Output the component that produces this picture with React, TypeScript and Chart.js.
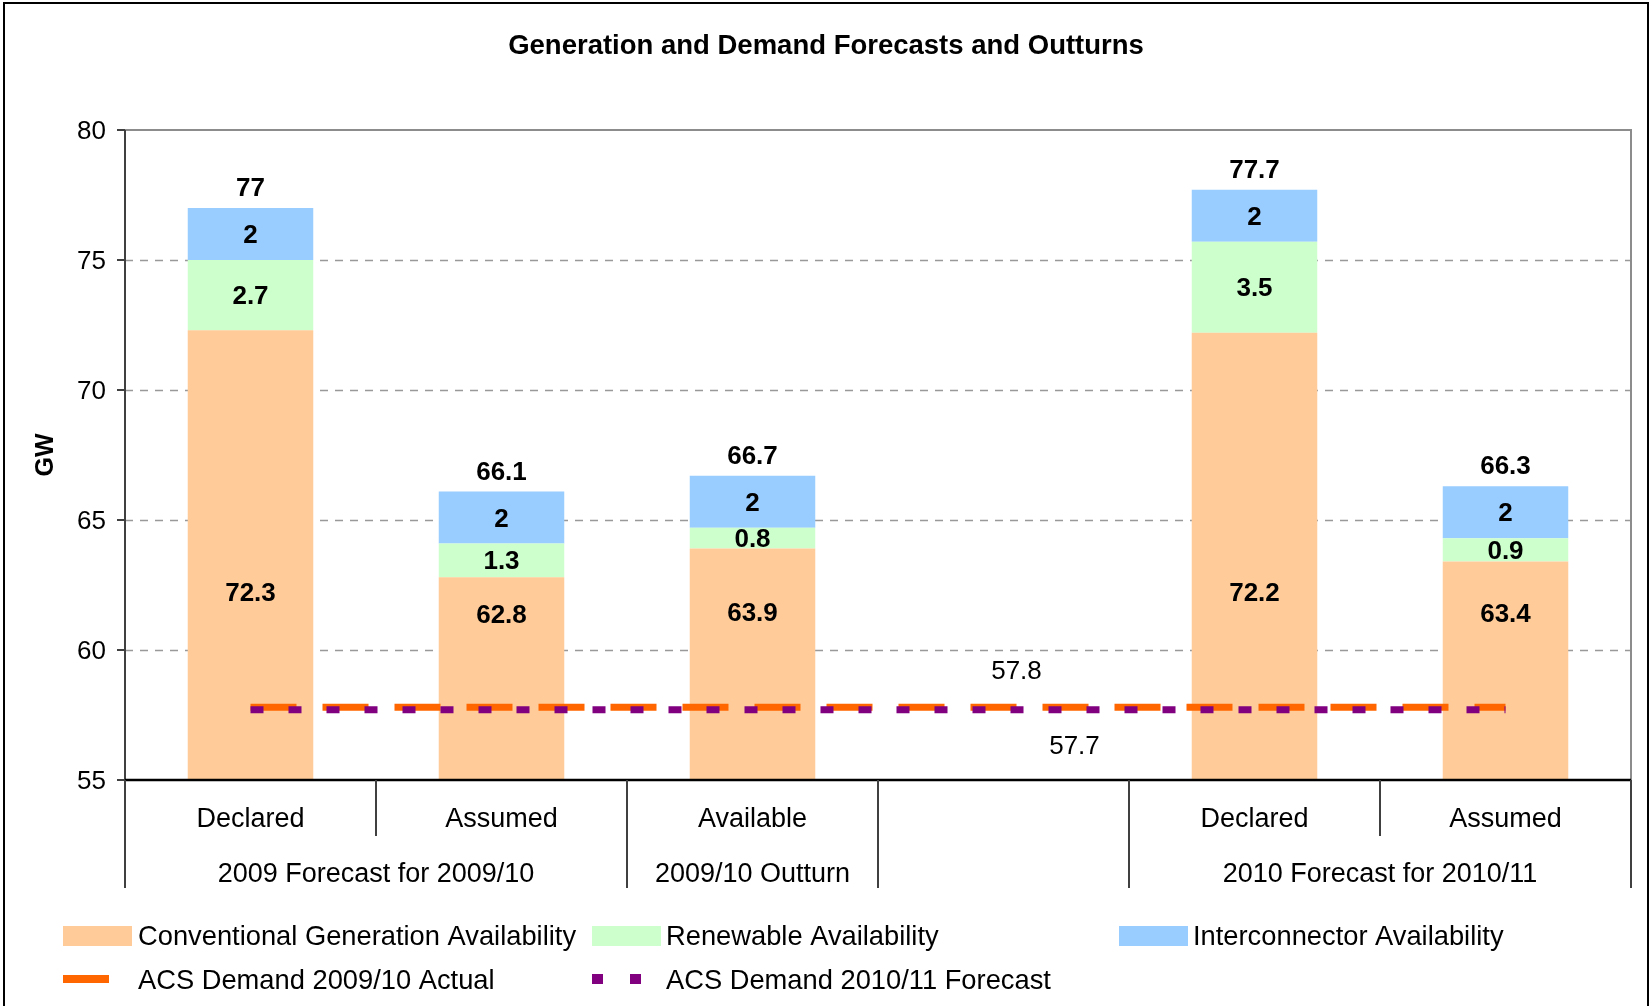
import { useEffect, useRef } from 'react';
import { Chart, registerables } from 'chart.js';

Chart.register(...registerables);

const chartTitle = 'Generation and Demand Forecasts and Outturns';
const yTitle = 'GW';
const categories = ['Declared', 'Assumed', 'Available', '', 'Declared', 'Assumed'];
const groupLabels = ['2009 Forecast for 2009/10', '2009/10 Outturn', '', '2010 Forecast for 2010/11'];
const groupSpans = [2, 1, 1, 2];
const conventional = [72.3, 62.8, 63.9, null, 72.2, 63.4];
const renewable = [2.7, 1.3, 0.8, null, 3.5, 0.9];
const interconnector = [2, 2, 2, null, 2, 2];
const demandActual = [57.8, 57.8, 57.8, 57.8, 57.8, 57.8];
const demandForecast = [57.7, 57.7, 57.7, 57.7, 57.7, 57.7];
const yTicks = [55, 60, 65, 70, 75, 80];
const seriesNames = [
  'Conventional Generation Availability',
  'Renewable Availability',
  'Interconnector Availability',
  'ACS Demand 2009/10 Actual',
  'ACS Demand 2010/11 Forecast',
];
const colors = ['#FFCC99', '#CCFFCC', '#99CCFF', '#FF6600', '#800080'];

const W = 1652;
const H = 1006;
const FONT = '"Liberation Sans", Arial, sans-serif';

const fmt = (v: number) => String(Number(v.toFixed(1)));

const excelPlugin = {
  id: 'excelLook',
  beforeDatasetsDraw(chart: any) {
    const { ctx, chartArea: a, scales } = chart;
    const y = scales.y;
    ctx.save();
    ctx.strokeStyle = '#999999';
    ctx.lineWidth = 1.5;
    ctx.setLineDash([8, 7]);
    for (const t of yTicks) {
      if (t === yTicks[0] || t === yTicks[yTicks.length - 1]) continue;
      const py = Math.round(y.getPixelForValue(t)) + 0.5;
      ctx.beginPath();
      ctx.moveTo(a.left, py);
      ctx.lineTo(a.right, py);
      ctx.stroke();
    }
    ctx.setLineDash([]);
    ctx.strokeStyle = '#8c8c8c';
    ctx.lineWidth = 2;
    ctx.beginPath();
    ctx.moveTo(a.left, a.top);
    ctx.lineTo(a.right, a.top);
    ctx.lineTo(a.right, a.bottom);
    ctx.stroke();
    ctx.restore();
  },
  afterDatasetsDraw(chart: any) {
    const { ctx, chartArea: a, scales } = chart;
    const x = scales.x;
    const y = scales.y;
    const n = categories.length;
    const catW = (a.right - a.left) / n;
    ctx.save();

    // y axis line and ticks
    ctx.strokeStyle = '#404040';
    ctx.lineWidth = 2;
    ctx.beginPath();
    ctx.moveTo(a.left, a.top);
    ctx.lineTo(a.left, a.bottom);
    ctx.stroke();
    ctx.fillStyle = '#000';
    ctx.font = `26px ${FONT}`;
    ctx.textAlign = 'right';
    ctx.textBaseline = 'middle';
    for (const t of yTicks) {
      const py = y.getPixelForValue(t);
      ctx.beginPath();
      ctx.moveTo(a.left - 8, py);
      ctx.lineTo(a.left, py);
      ctx.stroke();
      ctx.fillText(String(t), a.left - 19, py + 2);
    }

    // bottom axis
    ctx.strokeStyle = '#000';
    ctx.lineWidth = 2.5;
    ctx.beginPath();
    ctx.moveTo(a.left, a.bottom);
    ctx.lineTo(a.right, a.bottom);
    ctx.stroke();

    // category separators
    const groupEdges = new Set<number>([0]);
    let acc = 0;
    for (const s of groupSpans) {
      acc += s;
      groupEdges.add(acc);
    }
    ctx.strokeStyle = '#404040';
    ctx.lineWidth = 2;
    for (let b = 0; b <= n; b++) {
      const px = Math.round(a.left + b * catW);
      const len = groupEdges.has(b) ? 108 : 56;
      ctx.beginPath();
      ctx.moveTo(px, a.bottom);
      ctx.lineTo(px, a.bottom + len);
      ctx.stroke();
    }

    // category labels
    ctx.fillStyle = '#000';
    ctx.font = `27px ${FONT}`;
    ctx.textAlign = 'center';
    ctx.textBaseline = 'middle';
    categories.forEach((c, i) => {
      if (c) ctx.fillText(c, x.getPixelForValue(i), a.bottom + 40);
    });
    let start = 0;
    groupLabels.forEach((g, i) => {
      const end = start + groupSpans[i];
      const cx = a.left + ((start + end) / 2) * catW;
      if (g) ctx.fillText(g, cx, a.bottom + 95);
      start = end;
    });

    // data labels for bars
    ctx.font = `bold 26px ${FONT}`;
    for (let i = 0; i < n; i++) {
      const c = conventional[i];
      const r = renewable[i];
      const ic = interconnector[i];
      if (c == null || r == null || ic == null) continue;
      const cx = x.getPixelForValue(i);
      const convLabelVal = 60.6 + 0.09 * (c - yTicks[0]);
      ctx.fillText(fmt(c), cx, y.getPixelForValue(convLabelVal));
      ctx.fillText(fmt(r), cx, y.getPixelForValue(c + r / 2) + 2);
      ctx.fillText(fmt(ic), cx, y.getPixelForValue(c + r + ic / 2) + 2);
      const total = c + r + ic;
      ctx.fillText(fmt(total), cx, y.getPixelForValue(total) - 19);
    }

    // line labels
    ctx.font = `26px ${FONT}`;
    const li = 3;
    ctx.fillText(fmt(demandActual[li]), x.getPixelForValue(li) + 13, y.getPixelForValue(demandActual[li]) - 35);
    ctx.fillText(fmt(demandForecast[li]), x.getPixelForValue(li) + 71, y.getPixelForValue(demandForecast[li]) + 37);

    // title
    ctx.font = `bold 27.5px ${FONT}`;
    ctx.fillText(chartTitle, W / 2, 46);

    // y title
    ctx.save();
    ctx.translate(46, (a.top + a.bottom) / 2);
    ctx.rotate(-Math.PI / 2);
    ctx.font = `bold 25px ${FONT}`;
    ctx.fillText(yTitle, 0, 0);
    ctx.restore();

    // legend
    ctx.font = `27.3px ${FONT}`;
    ctx.textAlign = 'left';
    const row1 = 936;
    const row2 = 980;
    const boxes = [
      { bx: 63, tx: 138 },
      { bx: 592, tx: 666 },
      { bx: 1119, tx: 1193 },
    ];
    for (let k = 0; k < 3; k++) {
      ctx.fillStyle = colors[k];
      ctx.fillRect(boxes[k].bx, row1 - 10, 69, 20);
      ctx.fillStyle = '#000';
      ctx.fillText(seriesNames[k], boxes[k].tx, row1 + 1);
    }
    ctx.fillStyle = colors[3];
    ctx.fillRect(63, row2 - 5, 46, 8);
    ctx.fillStyle = '#000';
    ctx.fillText(seriesNames[3], 138, row2 + 1);
    ctx.fillStyle = colors[4];
    ctx.fillRect(592, row2 - 6, 11, 10);
    ctx.fillRect(630, row2 - 6, 11, 10);
    ctx.fillStyle = '#000';
    ctx.fillText(seriesNames[4], 666, row2 + 1);

    // outer border
    ctx.strokeStyle = '#000';
    ctx.lineWidth = 2;
    ctx.strokeRect(4, 3, 1644, 1010);

    ctx.restore();
  },
};

export default function App() {
  const ref = useRef<HTMLCanvasElement | null>(null);
  useEffect(() => {
    if (!ref.current) return;
    const chart = new Chart(ref.current, {
      type: 'bar',
      data: {
        labels: categories,
        datasets: [
          {
            type: 'line',
            label: seriesNames[4],
            data: demandForecast,
            borderColor: colors[4],
            borderWidth: 7,
            borderDash: [13, 25],
            borderCapStyle: 'butt',
            pointRadius: 0,
            fill: false,
            stack: 'l2',
            order: 0,
            clip: 0,
          } as any,
          {
            type: 'line',
            label: seriesNames[3],
            data: demandActual,
            borderColor: colors[3],
            borderWidth: 7,
            borderDash: [46, 26],
            borderCapStyle: 'butt',
            pointRadius: 0,
            fill: false,
            stack: 'l1',
            order: 1,
            clip: 0,
          } as any,
          {
            label: seriesNames[0],
            data: conventional,
            backgroundColor: colors[0],
            borderWidth: 0,
            stack: 'bars',
            order: 2,
            clip: 0,
          } as any,
          {
            label: seriesNames[1],
            data: renewable,
            backgroundColor: colors[1],
            borderWidth: 0,
            stack: 'bars',
            order: 2,
            clip: 0,
          } as any,
          {
            label: seriesNames[2],
            data: interconnector,
            backgroundColor: colors[2],
            borderWidth: 0,
            stack: 'bars',
            order: 2,
            clip: 0,
          } as any,
        ],
      },
      options: {
        animation: false,
        responsive: false,
        maintainAspectRatio: false,
        devicePixelRatio: 1,
        layout: { padding: { left: 125, top: 130, right: 21, bottom: 226 } },
        datasets: { bar: { barPercentage: 0.5, categoryPercentage: 1 } },
        plugins: {
          legend: { display: false },
          title: { display: false },
          tooltip: { enabled: false },
        },
        scales: {
          x: { display: false, stacked: true },
          y: {
            display: false,
            stacked: true,
            min: yTicks[0],
            max: yTicks[yTicks.length - 1],
            ticks: { stepSize: 5 },
          },
        },
      },
      plugins: [excelPlugin],
    } as any);
    return () => chart.destroy();
  }, []);
  return (
    <div style={{ position: 'fixed', left: 0, top: 0, width: W, height: H, background: '#fff' }}>
      <canvas ref={ref} width={W} height={H} style={{ width: W, height: H, display: 'block' }} />
    </div>
  );
}
